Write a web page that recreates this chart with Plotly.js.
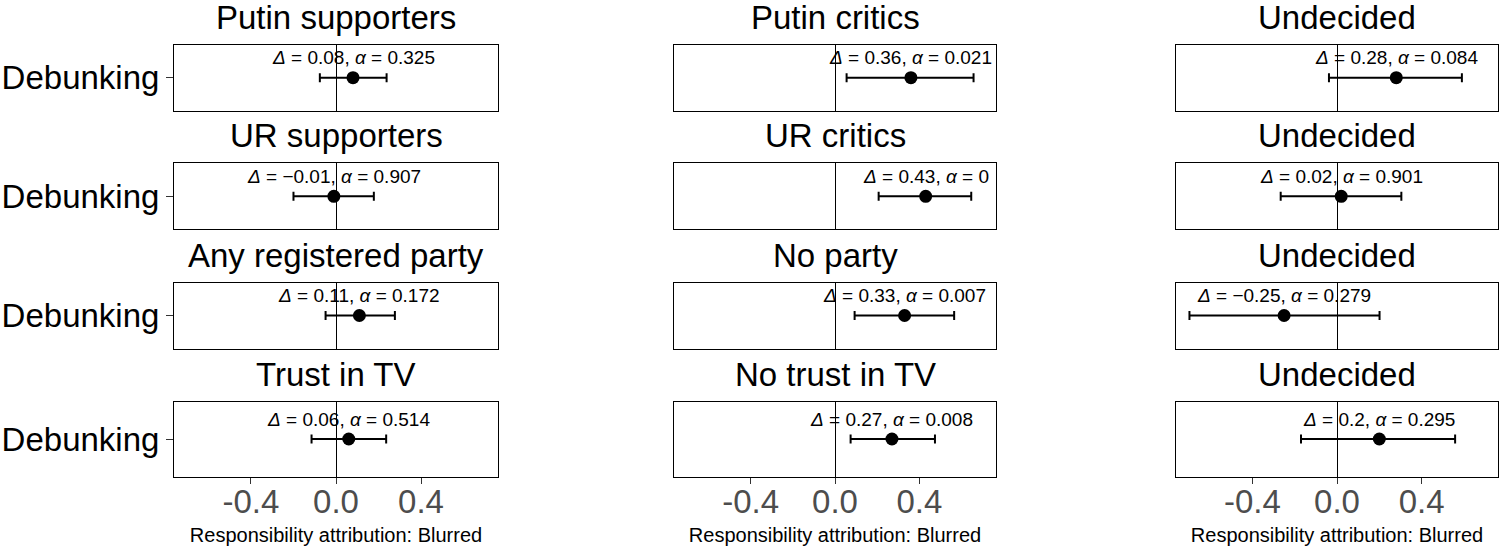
<!DOCTYPE html>
<html>
<head>
<meta charset="utf-8">
<script src="https://cdn.plot.ly/plotly-3.0.1.min.js"></script>
<style>
  html, body { margin: 0; padding: 0; background: #ffffff; }
  #chart { width: 1500px; height: 546px; }
</style>
</head>
<body>
<div id="chart"></div>
<script>
// ---- Data ----
const panelTitles = [
  "Putin supporters", "Putin critics", "Undecided",
  "UR supporters", "UR critics", "Undecided",
  "Any registered party", "No party", "Undecided",
  "Trust in TV", "No trust in TV", "Undecided"
];
const treatment = "Debunking";
const delta = [0.08, 0.36, 0.28, -0.01, 0.43, 0.02, 0.11, 0.33, -0.25, 0.06, 0.27, 0.2];
const alphaP = [0.325, 0.021, 0.084, 0.907, 0, 0.901, 0.172, 0.007, 0.279, 0.514, 0.008, 0.295];
const ciLower = [-0.076, 0.055, -0.038, -0.2, 0.207, -0.266, -0.049, 0.093, -0.697, -0.115, 0.074, -0.17];
const ciUpper = [0.238, 0.657, 0.59, 0.178, 0.646, 0.304, 0.277, 0.565, 0.201, 0.236, 0.474, 0.558];
const xTickVals = [-0.4, 0, 0.4];
const xTickText = ["-0.4", "0.0", "0.4"];
const xAxisTitle = "Responsibility attribution: Blurred";

// ---- Layout constants ----
const W = 1500, H = 546;
const colPx = [[174, 498], [674.3, 995.7], [1175.7, 1498.3]];
const rowPx = [[44.7, 110.7], [163.3, 229.3], [282.5, 348.5], [401.5, 476.5]];
const FONT = "Liberation Sans, Arial, Helvetica, sans-serif";

function fmt(v) { return String(v).replace("-", "\u2212"); }

const traces = [];
const layout = {
  width: W, height: H,
  margin: {l: 0, r: 0, t: 0, b: 0},
  paper_bgcolor: "#ffffff",
  plot_bgcolor: "#ffffff",
  font: {family: FONT, color: "#000000"},
  showlegend: false,
  annotations: []
};

for (let i = 0; i < panelTitles.length; i++) {
  const r = Math.floor(i / 3), c = i % 3, k = i + 1;
  const xa = "xaxis" + (k === 1 ? "" : k), ya = "yaxis" + (k === 1 ? "" : k);
  const xr = "x" + (k === 1 ? "" : k), yr = "y" + (k === 1 ? "" : k);

  traces.push({
    type: "scatter", mode: "markers",
    x: [delta[i]], y: [treatment],
    xaxis: xr, yaxis: yr,
    marker: {size: 13, color: "#000000"},
    error_x: {
      type: "data", symmetric: false,
      array: [ciUpper[i] - delta[i]],
      arrayminus: [delta[i] - ciLower[i]],
      color: "#000000", thickness: 2, width: 4.5
    },
    hoverinfo: "skip"
  });

  layout[xa] = {
    domain: [colPx[c][0] / W, colPx[c][1] / W],
    anchor: yr,
    range: [-0.762, 0.762],
    showgrid: false,
    zeroline: true, zerolinecolor: "#000000", zerolinewidth: 1,
    showline: true, mirror: true, linecolor: "#000000", linewidth: 1,
    tickvals: xTickVals, ticktext: xTickText,
    ticks: r === 3 ? "outside" : "",
    ticklen: 6, tickcolor: "#333333", tickwidth: 1,
    showticklabels: r === 3,
    ticklabelstandoff: -10,
    tickfont: {family: FONT, size: 33, color: "#4d4d4d"},
    fixedrange: true
  };
  if (r === 3) {
    layout[xa].title = {text: xAxisTitle, font: {family: FONT, size: 20, color: "#000000"}, standoff: 14};
  }

  layout[ya] = {
    domain: [1 - rowPx[r][1] / H, 1 - rowPx[r][0] / H],
    anchor: xr,
    type: "category",
    range: [-0.6, 0.6],
    showgrid: false, zeroline: false,
    showline: true, mirror: true, linecolor: "#000000", linewidth: 1,
    showticklabels: c === 0,
    ticks: c === 0 ? "outside" : "",
    ticklen: 7, tickcolor: "#333333", tickwidth: 1,
    tickfont: {family: FONT, size: 33, color: "#000000"},
    fixedrange: true
  };

  // panel title
  layout.annotations.push({
    xref: "paper", yref: "paper",
    x: (colPx[c][0] + colPx[c][1]) / 2 / W,
    y: 1 - rowPx[r][0] / H,
    xanchor: "center", yanchor: "bottom", yshift: 7,
    text: panelTitles[i], showarrow: false,
    font: {family: FONT, size: 33, color: "#000000"}
  });

  // estimate label
  layout.annotations.push({
    xref: xr, yref: yr,
    x: delta[i], y: treatment,
    xanchor: "center", yanchor: "middle", yshift: 20,
    text: "<i>\u0394</i> = " + fmt(delta[i]) + ", <i>\u03b1</i> = " + fmt(alphaP[i]),
    showarrow: false,
    font: {family: FONT, size: 19, color: "#000000"}
  });
}

Plotly.newPlot("chart", traces, layout, {staticPlot: true, displayModeBar: false});
</script>
</body>
</html>
